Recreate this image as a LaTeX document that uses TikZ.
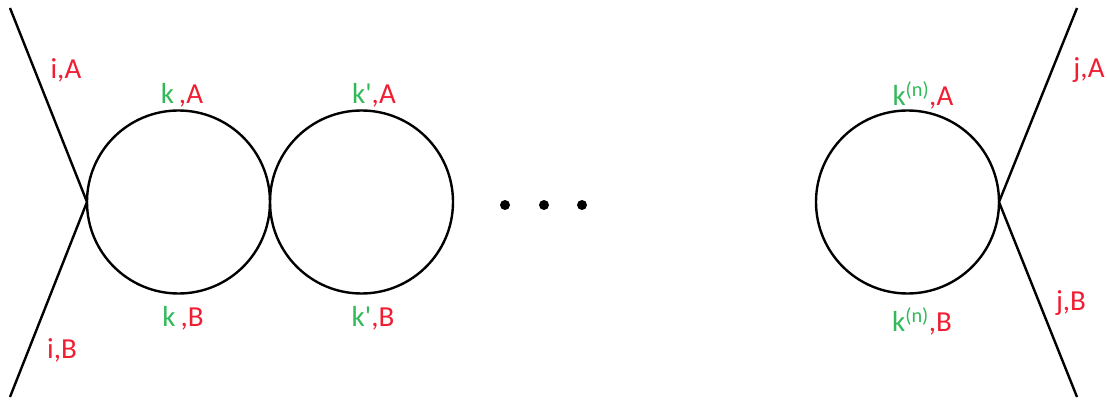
\documentclass[tikz,border=0pt]{standalone}
\usepackage{fontspec}
\setmainfont{Carlito}[Ligatures=TeXOff]
\definecolor{lblred}{RGB}{240,30,50}
\definecolor{lblgreen}{RGB}{50,185,90}
\begin{document}
\begin{tikzpicture}[x=1pt,y=-1pt,
  line/.style={line width=2.4pt,black},
  loop/.style={line width=2.4pt,black},
  lbl/.style={font=\fontsize{29}{29}\selectfont,inner sep=0pt,text=lblred},
  dot/.style={circle,fill=black,inner sep=0pt,minimum size=10pt}]
\useasboundingbox (0,0) rectangle (1107,403);
% vertices and external leg ends
\coordinate (vL) at (87,202);
\coordinate (vR) at (999,202);
\coordinate (iA) at (10,8);
\coordinate (iB) at (10,397);
\coordinate (jA) at (1077,8);
\coordinate (jB) at (1077,397);
\draw[line] (iA) -- (vL) -- (iB);
\draw[line] (jA) -- (vR) -- (jB);
% bubbles
\node[circle,draw,loop,minimum size=183pt,inner sep=0pt] (c1) at (178.5,202) {};
\node[circle,draw,loop,minimum size=183pt,inner sep=0pt] (c2) at (361.5,202) {};
\node[circle,draw,loop,minimum size=183pt,inner sep=0pt] (c3) at (907.5,202) {};
% ellipsis
\node[dot] (d1) at (505,205) {};
\node[dot] (d2) at (544,205) {};
\node[dot] (d3) at (582,205) {};
% labels
\node[lbl] (liA) at (66,70) {i,A};
\node[lbl] (liB) at (62,350) {i,B};
\node[lbl] (ljA) at (1089,70) {j,A};
\node[lbl] (ljB) at (1071,303) {j,B};
\node[lbl] (lkA) at (182,95) {\textcolor{lblgreen}{k}\,,A};
\node[lbl] (lkB) at (183,318) {\textcolor{lblgreen}{k}\,,B};
\node[lbl] (lk1A) at (374,95) {\textcolor{lblgreen}{k'},A};
\node[lbl] (lk1B) at (373,318) {\textcolor{lblgreen}{k'},B};
\node[lbl] (lknA) at (923,95) {\textcolor{lblgreen}{k\textsuperscript{(n)}},A};
\node[lbl] (lknB) at (922,321) {\textcolor{lblgreen}{k\textsuperscript{(n)}},B};
\end{tikzpicture}
\end{document}
